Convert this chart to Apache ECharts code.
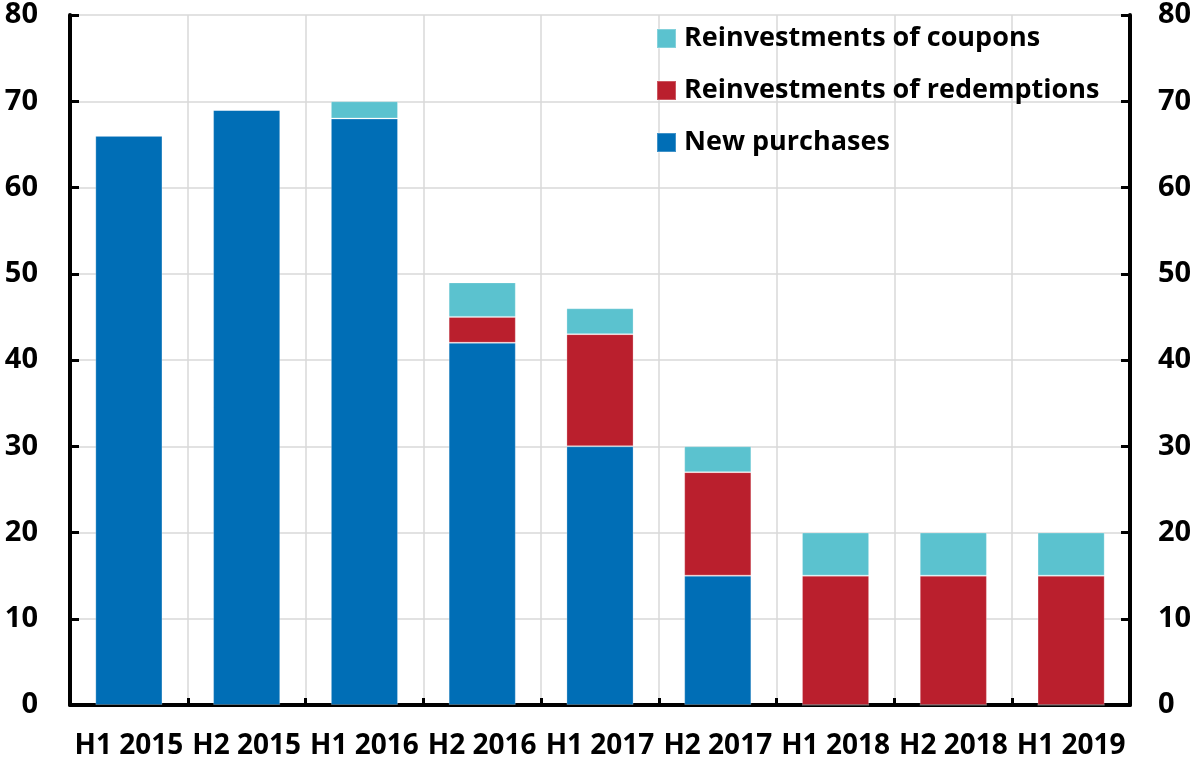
<!DOCTYPE html>
<html><head><meta charset="utf-8">
<script src="https://cdn.jsdelivr.net/npm/echarts@6/dist/echarts.min.js"></script>
<style>html,body{margin:0;padding:0;background:#fff}#c{width:1198px;height:760px}</style>
</head><body><div id="c"></div>
<script>
const categories = ["H1 2015","H2 2015","H1 2016","H2 2016","H1 2017","H2 2017","H1 2018","H2 2018","H1 2019"];
const newPurchases = [66, 69, 68, 42, 30, 15, 0, 0, 0];
const redemptions = [0, 0, 0, 3, 13, 12, 15, 15, 15];
const coupons = [0, 0, 2, 4, 3, 3, 5, 5, 5];
const legendOrder = ["Reinvestments of coupons","Reinvestments of redemptions","New purchases"];
const FONT = "Open Sans";
const chart = echarts.init(document.getElementById('c'));
const yAxisBase = (pos) => ({
  type: 'value', position: pos, min: 0, max: 80, interval: 10,
  axisLine: {show: true, lineStyle: {color: '#000', width: 4}},
  axisTick: {show: true, inside: true, length: 9, lineStyle: {color: '#000', width: 3}},
  axisLabel: {color: '#000', fontFamily: FONT, fontWeight: 'bold', fontSize: 29, margin: pos === 'left' ? 32 : 28},
  splitLine: {show: pos === 'left', lineStyle: {color: '#d9d9d9', width: 1.5}}
});
const mk = (name, data, color) => ({
  name, type: 'bar', stack: 'a', data, barWidth: '57%',
  itemStyle: {color, borderColor: 'rgba(255,255,255,0.25)', borderWidth: 1},
  emphasis: {disabled: true}
});
chart.setOption({
  animation: false,
  grid: {left: 70, right: 68, top: 15, bottom: 55, containLabel: false},
  legend: {
    data: legendOrder, orient: 'vertical', left: 651, top: 20, itemGap: 25,
    itemWidth: 19, itemHeight: 19, icon: 'rect',
    textStyle: {color: '#000', fontFamily: FONT, fontWeight: 'bold', fontSize: 27, padding: [0,0,0,3]}
  },
  xAxis: {
    type: 'category', data: categories,
    axisLine: {lineStyle: {color: '#000', width: 4}},
    axisTick: {show: true, inside: true, length: 7, lineStyle: {color: '#000', width: 3}},
    axisLabel: {color: '#000', fontFamily: FONT, fontWeight: 'bold', fontSize: 28, margin: 27, interval: 0},
    splitLine: {show: true, lineStyle: {color: '#d9d9d9', width: 1.5}}
  },
  yAxis: [yAxisBase('left'), yAxisBase('right')],
  series: [
    mk("New purchases", newPurchases, '#006EB6'),
    mk("Reinvestments of redemptions", redemptions, '#BA1F2D'),
    mk("Reinvestments of coupons", coupons, '#5BC2CF')
  ]
});
</script></body></html>
